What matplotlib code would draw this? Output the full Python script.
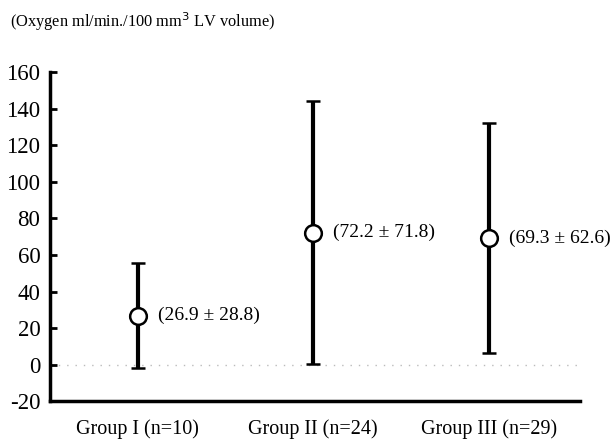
import matplotlib.pyplot as plt

# data
groups = ["Group I (n=10)", "Group II (n=24)", "Group III (n=29)"]
means = [26.9, 72.2, 69.3]
sds = [28.8, 71.8, 62.6]
yticks = [-20, 0, 20, 40, 60, 80, 100, 120, 140, 160]

plt.rcParams['font.family'] = ['Liberation Serif', 'DejaVu Serif']

fig = plt.figure(figsize=(6.14, 4.41), dpi=100)
ax = fig.add_axes([0.0814, 0.0896, 0.863, 0.747])

xs = [1, 2, 3]
# faint dotted zero line
ax.axhline(0, color='#bbbbbb', lw=1, ls=(0, (1, 5)), zorder=1)

ax.errorbar(xs, means, yerr=sds, fmt='o', color='black', ecolor='black',
            elinewidth=3, capsize=5, capthick=3, markersize=12,
            markerfacecolor='white', markeredgecolor='black',
            markeredgewidth=1.8, zorder=3)

for x, m, s in zip(xs, means, sds):
    ax.text(x + 0.115, m, "(%.1f \u00b1 %.1f)" % (m, s), fontsize=14,
            va='center', ha='left')

ax.set_xlim(0.4986, 3.52)
ax.set_ylim(-20, 160)
ax.set_yticks(yticks)
ax.set_yticklabels([str(t) for t in yticks], fontsize=16.5)
ax.set_xticks(xs)
ax.set_xticklabels(groups, fontsize=14.5)
ax.tick_params(axis='x', length=0, pad=13)
ax.tick_params(axis='y', direction='in', length=5, width=2, pad=7)

for side in ['top', 'right']:
    ax.spines[side].set_visible(False)
ax.spines['left'].set_linewidth(2.5)
ax.spines['bottom'].set_linewidth(2.5)

fig.text(0.016, 0.95, "(Oxygen ml/min./100 mm$^3$ LV volume)", fontsize=11.8,
         va='center', ha='left')

fig.savefig('out.png', dpi=100)
